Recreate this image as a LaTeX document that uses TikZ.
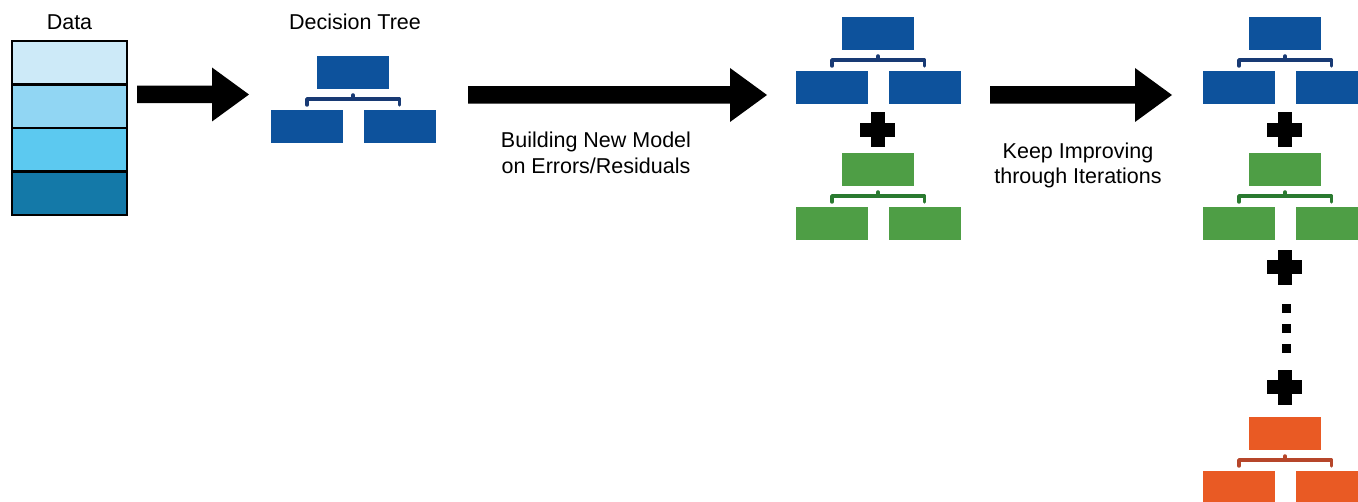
\documentclass[tikz,border=0pt]{standalone}
\usepackage{fontspec}
\setmainfont{Liberation Sans}
\usetikzlibrary{calc}

% palette
\definecolor{treeblue}{RGB}{13,82,156}
\definecolor{treebluedark}{RGB}{24,58,116}
\definecolor{treegreen}{RGB}{78,158,69}
\definecolor{treegreendark}{RGB}{42,122,48}
\definecolor{treeorange}{RGB}{233,90,36}
\definecolor{treeorangedark}{RGB}{182,70,42}
\definecolor{dataA}{RGB}{205,234,248}
\definecolor{dataB}{RGB}{145,214,243}
\definecolor{dataC}{RGB}{92,201,240}
\definecolor{dataD}{RGB}{20,121,168}

\tikzset{
  lbl/.style={font=\fontsize{21.5}{25.5}\selectfont, align=center, inner sep=0pt, anchor=base},
  datarow/.style={draw=black, line width=2.5pt, minimum width=115pt, minimum height=43.5pt,
                  inner sep=0pt, outer sep=0pt},
  treebox/.style={draw=none, minimum width=72pt, minimum height=33pt, inner sep=0pt, outer sep=0pt},
  bracket/.style={line width=3.5pt, line cap=round, line join=round},
  arrowfill/.style={fill=black},
  plus/.pic={\fill (-17.5,-7) rectangle (17.5,7);
             \fill (-7,-17.5) rectangle (7,17.5);},
  dotmark/.pic={\fill (-4.5,-4.5) rectangle (4.5,4.5);}
}

% one decision tree: name prefix, centre x, top y, fill colour, bracket colour
\newcommand\gbtree[5]{%
  \node[treebox, fill=#4] (#1t) at (#2, #3+16.5) {};
  \node[treebox, fill=#4] (#1l) at (#2-46, #3+70.5) {};
  \node[treebox, fill=#4] (#1r) at (#2+46.5, #3+70.5) {};
  \draw[bracket, draw=#5] ([yshift=5pt]#1l.north) -- ([yshift=11pt]#1l.north)
        -- ([yshift=11pt]#1r.north) -- ([yshift=5pt]#1r.north);
  \draw[bracket, draw=#5] ([yshift=-10pt]#1t.south) -- ([yshift=-6pt]#1t.south);
}

% thick block arrow between two named coordinates
\newcommand\blockarrow[2]{%
  \fill[arrowfill] ([yshift=8.75pt]#1) -- ([xshift=-37pt,yshift=8.75pt]#2)
    -- ([xshift=-37pt,yshift=27pt]#2) -- (#2) -- ([xshift=-37pt,yshift=-27pt]#2)
    -- ([xshift=-37pt,yshift=-8.75pt]#2) -- ([yshift=-8.75pt]#1) -- cycle;
}

\begin{document}
\begin{tikzpicture}[x=1pt, y=-1pt]
  \useasboundingbox (0,0) rectangle (1358,502);
  \clip (0,0) rectangle (1358,502);

  % data table
  \node[lbl] (datalbl) at (69.5,29.3) {Data};
  \node[datarow, fill=dataA] (d1) at (69.5,62.75) {};
  \node[datarow, fill=dataB] (d2) at (69.5,106.25) {};
  \node[datarow, fill=dataC] (d3) at (69.5,149.75) {};
  \node[datarow, fill=dataD] (d4) at (69.5,193.25) {};

  % first tree
  \node[lbl] (treelbl) at (355,29.3) {Decision Tree};
  \gbtree{a}{353}{56}{treeblue}{treebluedark}

  % second stage: tree plus residual tree
  \gbtree{b}{878}{17}{treeblue}{treebluedark}
  \pic (pb) at (877.5,130) {plus};
  \gbtree{c}{878}{153}{treegreen}{treegreendark}

  % third stage: sum of many trees
  \gbtree{e}{1285}{17}{treeblue}{treebluedark}
  \pic (pe1) at (1284.5,130) {plus};
  \gbtree{f}{1285}{153}{treegreen}{treegreendark}
  \pic (pe2) at (1284.5,267.5) {plus};
  \pic (dt1) at (1286,309) {dotmark};
  \pic (dt2) at (1286,329) {dotmark};
  \pic (dt3) at (1286,349) {dotmark};
  \pic (pe3) at (1284.5,387.5) {plus};
  \gbtree{g}{1285}{417}{treeorange}{treeorangedark}

  % arrows
  \coordinate (a1s) at (137,94.5);  \coordinate (a1e) at (249,94.5);
  \coordinate (a2s) at (468,95);    \coordinate (a2e) at (767,95);
  \coordinate (a3s) at (990,95);    \coordinate (a3e) at (1172,95);
  \blockarrow{a1s}{a1e}
  \blockarrow{a2s}{a2e}
  \blockarrow{a3s}{a3e}

  % arrow captions (base anchor sits on the last line)
  \node[lbl] (buildlbl) at (596,173.5) {Building New Model\\on Errors/Residuals};
  \node[lbl] (keeplbl) at (1078,184) {Keep Improving\\through Iterations};
\end{tikzpicture}
\end{document}
